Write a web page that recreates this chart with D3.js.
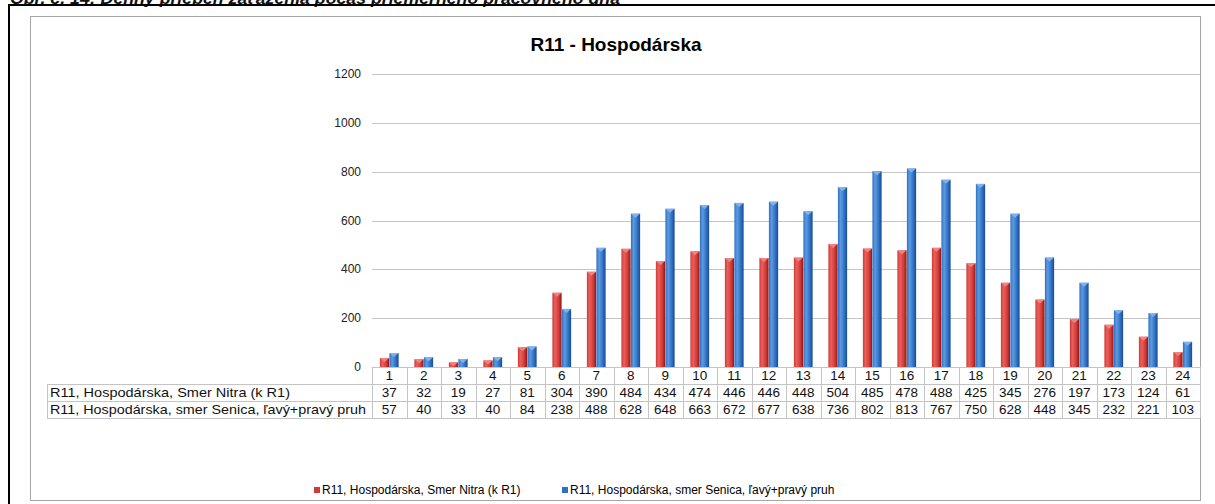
<!DOCTYPE html>
<html>
<head>
<meta charset="utf-8">
<script src="https://cdn.jsdelivr.net/npm/d3@7"></script>
<style>
  body { margin: 0; background: #fff; }
  svg { display: block; font-family: "Liberation Sans", Arial, sans-serif; }
</style>
</head>
<body>
<svg id="chart"></svg>
<script>
const width = 1215;
const height = 504;

const hours = d3.range(1, 25).map(String);
const seriesNames = [
  'R11, Hospodárska, Smer Nitra (k R1)',
  'R11, Hospodárska, smer Senica, ľavý+pravý pruh'
];
const nitra = [37, 32, 19, 27, 81, 304, 390, 484, 434, 474, 446, 446, 448, 504, 485, 478, 488, 425, 345, 276, 197, 173, 124, 61];
const senica = [57, 40, 33, 40, 84, 238, 488, 628, 648, 663, 672, 677, 638, 736, 802, 813, 767, 750, 628, 448, 345, 232, 221, 103];
const yTicks = [0, 200, 400, 600, 800, 1000, 1200];

const colors = [
  { light: '#e8605c', mid: '#d23a36', dark: '#8e1614', cap: '#f08a86' },
  { light: '#5d9be0', mid: '#2f70c4', dark: '#1a4a90', cap: '#86b6ec' }
];

const svg = d3.select('#chart')
  .attr('width', width)
  .attr('height', height);

const defs = svg.append('defs');
colors.forEach(function (c, i) {
  const gr = defs.append('linearGradient')
    .attr('id', 'bar' + i)
    .attr('x1', 0).attr('x2', 1).attr('y1', 0).attr('y2', 0);
  gr.append('stop').attr('offset', '0%').attr('stop-color', c.mid);
  gr.append('stop').attr('offset', '30%').attr('stop-color', c.light);
  gr.append('stop').attr('offset', '70%').attr('stop-color', c.mid);
  gr.append('stop').attr('offset', '100%').attr('stop-color', c.dark);
});

// caption, cut off at the top of the page like in the scan
svg.append('text')
  .attr('x', 10)
  .attr('y', 4)
  .attr('textLength', 610)
  .attr('lengthAdjust', 'spacingAndGlyphs')
  .style('font-style', 'italic')
  .style('font-weight', 'bold')
  .style('font-size', '17px')
  .style('fill', '#111')
  .text('Obr. č. 14: Denný priebeh zaťaženia počas priemerného pracovného dňa');

// outer frame
svg.append('path')
  .attr('d', 'M9,' + height + 'V5H' + width)
  .style('fill', 'none')
  .style('stroke', '#000')
  .style('stroke-width', 2);

// chart area border
svg.append('rect')
  .attr('x', 30.5).attr('y', 16.5)
  .attr('width', 1170).attr('height', 484)
  .style('fill', '#fff')
  .style('stroke', '#a6a6a6');

svg.append('text')
  .attr('x', 616)
  .attr('y', 51)
  .attr('text-anchor', 'middle')
  .style('font-size', '19px')
  .style('font-weight', 'bold')
  .text('R11 - Hospodárska');

const x = d3.scaleBand()
  .domain(hours)
  .range([372, 1200])
  .padding(0);

const xSeries = d3.scaleBand()
  .domain([0, 1])
  .range([x.bandwidth() * 0.22, x.bandwidth() * 0.78])
  .padding(0.03);

const y = d3.scaleLinear()
  .domain([0, 1200])
  .range([367, 74]);

// gridlines + y labels
const yAxis = svg.append('g');
yAxis.selectAll('line')
  .data(yTicks)
  .enter()
  .append('line')
  .attr('x1', 372).attr('x2', 1200)
  .attr('y1', function (d) { return Math.round(y(d)) + 0.5; })
  .attr('y2', function (d) { return Math.round(y(d)) + 0.5; })
  .style('stroke', '#c6c6c6');
yAxis.selectAll('text')
  .data(yTicks)
  .enter()
  .append('text')
  .attr('x', 361)
  .attr('y', function (d) { return y(d) + 4; })
  .attr('text-anchor', 'end')
  .style('font-size', '12px')
  .style('fill', '#222')
  .text(function (d) { return d; });

// bars
const series = [nitra, senica];
series.forEach(function (values, si) {
  const g = svg.append('g');
  const bw = xSeries.bandwidth();
  const bars = g.selectAll('g')
    .data(values)
    .enter()
    .append('g')
    .attr('transform', function (d, i) { return 'translate(' + (x(hours[i]) + xSeries(si)) + ',0)'; });
  bars.append('rect')
    .attr('x', 0)
    .attr('y', function (d) { return y(d); })
    .attr('width', bw)
    .attr('height', function (d) { return y(0) - y(d); })
    .style('fill', 'url(#bar' + si + ')');
  bars.append('path')
    .attr('d', function (d) {
      const top = y(d);
      return 'M0,' + top + 'H' + bw + 'L' + (bw * 0.5) + ',' + (top + 4) + 'Z';
    })
    .style('fill', colors[si].cap)
    .style('opacity', 0.9);
});

// data table
const rowH = 17;
const tableTop = 367;
const labelLeft = 47;
const tbl = svg.append('g').style('font-size', '13.5px').style('fill', '#111');
const lineColor = '#c4c4c4';

// horizontal lines
tbl.append('line')
  .attr('x1', 372).attr('x2', 1200)
  .attr('y1', tableTop + 0.5).attr('y2', tableTop + 0.5)
  .style('stroke', lineColor);
[1, 2, 3].forEach(function (r) {
  tbl.append('line')
    .attr('x1', labelLeft).attr('x2', 1200)
    .attr('y1', tableTop + r * rowH + 0.5).attr('y2', tableTop + r * rowH + 0.5)
    .style('stroke', lineColor);
});
// vertical lines
tbl.selectAll('line.col')
  .data(hours.concat(['end']))
  .enter()
  .append('line')
  .attr('class', 'col')
  .attr('x1', function (d) { return Math.round(d === 'end' ? 1200 : x(d)) + 0.5; })
  .attr('x2', function (d) { return Math.round(d === 'end' ? 1200 : x(d)) + 0.5; })
  .attr('y1', tableTop)
  .attr('y2', tableTop + 3 * rowH)
  .style('stroke', lineColor);
tbl.append('line')
  .attr('x1', labelLeft + 0.5).attr('x2', labelLeft + 0.5)
  .attr('y1', tableTop + rowH).attr('y2', tableTop + 3 * rowH)
  .style('stroke', lineColor);

// header numbers
tbl.selectAll('text.hour')
  .data(hours)
  .enter()
  .append('text')
  .attr('class', 'hour')
  .attr('x', function (d) { return x(d) + x.bandwidth() / 2; })
  .attr('y', tableTop + 13)
  .attr('text-anchor', 'middle')
  .text(function (d) { return d; });

series.forEach(function (values, si) {
  const rowY = tableTop + (si + 1) * rowH + 13;
  tbl.append('text')
    .attr('x', labelLeft + 3)
    .attr('y', rowY)
    .attr('textLength', si === 0 ? 240 : 316)
    .attr('lengthAdjust', 'spacingAndGlyphs')
    .text(seriesNames[si]);
  tbl.selectAll('text.v' + si)
    .data(values)
    .enter()
    .append('text')
    .attr('class', 'v' + si)
    .attr('x', function (d, i) { return x(hours[i]) + x.bandwidth() / 2; })
    .attr('y', rowY)
    .attr('text-anchor', 'middle')
    .text(function (d) { return d; });
});

// legend
const legend = svg.append('g').style('font-size', '12px');
const legendX = [314, 562];
seriesNames.forEach(function (name, i) {
  legend.append('rect')
    .attr('x', legendX[i]).attr('y', 487)
    .attr('width', 6).attr('height', 6)
    .style('fill', colors[i].mid);
  legend.append('text')
    .attr('x', legendX[i] + 8)
    .attr('y', 494)
    .text(name);
});
</script>
</body>
</html>
